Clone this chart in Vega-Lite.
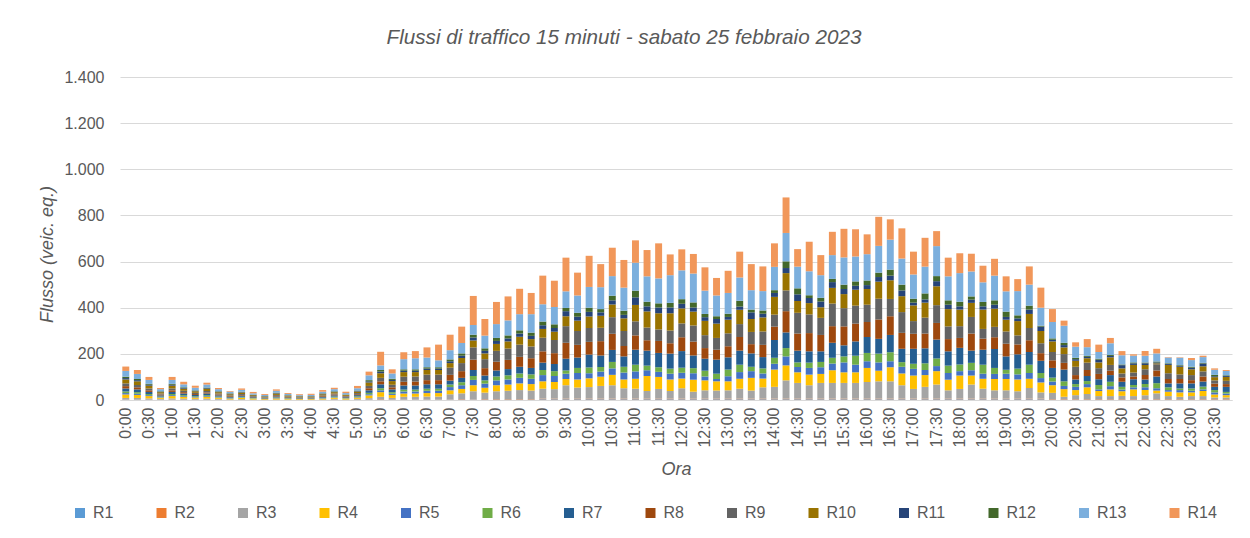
{
  "$schema": "https://vega.github.io/schema/vega-lite/v6.json",
  "width": 1112,
  "height": 323,
  "autosize": {"type": "none"},
  "padding": {"left": 120, "top": 77, "right": 18, "bottom": 138},
  "background": "white",
  "title": {"text": "Flussi di traffico 15 minuti - sabato 25 febbraio 2023", "font": "Liberation Sans", "fontStyle": "italic", "fontWeight": "normal", "fontSize": 20.7, "color": "#595959", "anchor": "middle", "offset": 20, "dx": -52},
  "data": {"values": [
    {"t":"0:00","R1":1,"R2":1,"R3":7,"R4":15,"R5":6,"R6":7,"R7":13,"R8":10,"R9":12,"R10":17,"R11":6,"R12":6,"R13":25,"R14":19},
    {"t":"0:15","R1":1,"R2":1,"R3":7,"R4":13,"R5":5,"R6":7,"R7":12,"R8":9,"R9":10,"R10":16,"R11":5,"R12":5,"R13":22,"R14":17},
    {"t":"0:30","R1":1,"R2":1,"R3":5,"R4":10,"R5":4,"R6":5,"R7":9,"R8":7,"R9":8,"R10":12,"R11":4,"R12":4,"R13":17,"R14":13},
    {"t":"0:45","R1":1,"R2":1,"R3":3,"R4":5,"R5":2,"R6":3,"R7":5,"R8":4,"R9":4,"R10":6,"R11":2,"R12":2,"R13":9,"R14":5},
    {"t":"1:00","R1":1,"R2":1,"R3":5,"R4":10,"R5":4,"R6":5,"R7":9,"R8":7,"R9":8,"R10":12,"R11":4,"R12":4,"R13":17,"R14":13},
    {"t":"1:15","R1":1,"R2":1,"R3":4,"R4":8,"R5":3,"R6":4,"R7":7,"R8":6,"R9":6,"R10":9,"R11":3,"R12":3,"R13":13,"R14":11},
    {"t":"1:30","R1":1,"R2":1,"R3":3,"R4":6,"R5":2,"R6":3,"R7":6,"R8":4,"R9":5,"R10":7,"R11":2,"R12":2,"R13":11,"R14":9},
    {"t":"1:45","R1":1,"R2":1,"R3":4,"R4":8,"R5":3,"R6":4,"R7":7,"R8":5,"R9":6,"R10":9,"R11":3,"R12":3,"R13":13,"R14":8},
    {"t":"2:00","R1":1,"R2":1,"R3":3,"R4":5,"R5":2,"R6":3,"R7":5,"R8":4,"R9":4,"R10":6,"R11":2,"R12":2,"R13":9,"R14":5},
    {"t":"2:15","R1":0,"R2":0,"R3":2,"R4":4,"R5":2,"R6":2,"R7":4,"R8":3,"R9":3,"R10":5,"R11":2,"R12":2,"R13":7,"R14":3},
    {"t":"2:30","R1":1,"R2":0,"R3":3,"R4":5,"R5":2,"R6":3,"R7":5,"R8":3,"R9":4,"R10":6,"R11":2,"R12":2,"R13":8,"R14":6},
    {"t":"2:45","R1":0,"R2":0,"R3":2,"R4":4,"R5":1,"R6":2,"R7":3,"R8":2,"R9":3,"R10":4,"R11":1,"R12":1,"R13":6,"R14":6},
    {"t":"3:00","R1":0,"R2":0,"R3":1,"R4":3,"R5":1,"R6":1,"R7":2,"R8":2,"R9":2,"R10":3,"R11":1,"R12":1,"R13":5,"R14":4},
    {"t":"3:15","R1":0,"R2":0,"R3":2,"R4":5,"R5":2,"R6":2,"R7":4,"R8":3,"R9":4,"R10":6,"R11":2,"R12":2,"R13":8,"R14":6},
    {"t":"3:30","R1":0,"R2":0,"R3":2,"R4":3,"R5":1,"R6":2,"R7":3,"R8":2,"R9":2,"R10":4,"R11":1,"R12":1,"R13":5,"R14":4},
    {"t":"3:45","R1":0,"R2":0,"R3":1,"R4":3,"R5":1,"R6":1,"R7":2,"R8":2,"R9":2,"R10":3,"R11":1,"R12":1,"R13":4,"R14":4},
    {"t":"4:00","R1":0,"R2":0,"R3":1,"R4":3,"R5":1,"R6":1,"R7":2,"R8":2,"R9":2,"R10":3,"R11":1,"R12":1,"R13":5,"R14":5},
    {"t":"4:15","R1":0,"R2":0,"R3":2,"R4":4,"R5":2,"R6":2,"R7":4,"R8":3,"R9":3,"R10":5,"R11":2,"R12":2,"R13":7,"R14":7},
    {"t":"4:30","R1":1,"R2":1,"R3":3,"R4":5,"R5":2,"R6":3,"R7":5,"R8":4,"R9":4,"R10":6,"R11":2,"R12":2,"R13":9,"R14":6},
    {"t":"4:45","R1":0,"R2":0,"R3":2,"R4":4,"R5":1,"R6":2,"R7":3,"R8":3,"R9":3,"R10":4,"R11":1,"R12":1,"R13":6,"R14":6},
    {"t":"5:00","R1":1,"R2":1,"R3":3,"R4":6,"R5":2,"R6":3,"R7":5,"R8":4,"R9":5,"R10":7,"R11":2,"R12":2,"R13":10,"R14":10},
    {"t":"5:15","R1":1,"R2":1,"R3":6,"R4":12,"R5":5,"R6":6,"R7":11,"R8":9,"R9":10,"R10":15,"R11":5,"R12":5,"R13":21,"R14":16},
    {"t":"5:30","R1":2,"R2":2,"R3":10,"R4":20,"R5":8,"R6":9,"R7":17,"R8":13,"R9":15,"R10":20,"R11":7,"R12":7,"R13":20,"R14":59},
    {"t":"5:45","R1":1,"R2":1,"R3":7,"R4":13,"R5":5,"R6":7,"R7":12,"R8":9,"R9":11,"R10":16,"R11":5,"R12":5,"R13":23,"R14":18},
    {"t":"6:00","R1":1,"R2":1,"R3":12,"R4":14,"R5":9,"R6":8,"R7":18,"R8":16,"R9":22,"R10":20,"R11":6,"R12":6,"R13":44,"R14":30},
    {"t":"6:15","R1":1,"R2":1,"R3":12,"R4":14,"R5":9,"R6":8,"R7":18,"R8":17,"R9":22,"R10":19,"R11":6,"R12":6,"R13":48,"R14":31},
    {"t":"6:30","R1":1,"R2":1,"R3":13,"R4":15,"R5":10,"R6":9,"R7":19,"R8":18,"R9":24,"R10":20,"R11":6,"R12":6,"R13":42,"R14":44},
    {"t":"6:45","R1":1,"R2":1,"R3":13,"R4":15,"R5":10,"R6":9,"R7":19,"R8":18,"R9":24,"R10":20,"R11":6,"R12":6,"R13":30,"R14":68},
    {"t":"7:00","R1":1,"R2":1,"R3":23,"R4":17,"R5":14,"R6":11,"R7":17,"R8":25,"R9":31,"R10":20,"R11":8,"R12":8,"R13":40,"R14":67},
    {"t":"7:15","R1":2,"R2":2,"R3":25,"R4":19,"R5":16,"R6":13,"R7":19,"R8":29,"R9":35,"R10":22,"R11":10,"R12":10,"R13":45,"R14":71},
    {"t":"7:30","R1":1,"R2":1,"R3":36,"R4":26,"R5":23,"R6":17,"R7":26,"R8":45,"R9":53,"R10":30,"R11":13,"R12":12,"R13":42,"R14":126},
    {"t":"7:45","R1":2,"R2":2,"R3":28,"R4":21,"R5":18,"R6":14,"R7":21,"R8":32,"R9":39,"R10":25,"R11":11,"R12":11,"R13":55,"R14":72},
    {"t":"8:00","R1":2,"R2":2,"R3":34,"R4":26,"R5":21,"R6":17,"R7":26,"R8":38,"R9":47,"R10":30,"R11":13,"R12":13,"R13":60,"R14":96},
    {"t":"8:15","R1":2,"R2":2,"R3":36,"R4":27,"R5":22,"R6":18,"R7":27,"R8":40,"R9":49,"R10":31,"R11":13,"R12":13,"R13":65,"R14":104},
    {"t":"8:30","R1":2,"R2":2,"R3":39,"R4":29,"R5":24,"R6":19,"R7":29,"R8":43,"R9":53,"R10":34,"R11":14,"R12":14,"R13":70,"R14":110},
    {"t":"8:45","R1":2,"R2":2,"R3":37,"R4":28,"R5":23,"R6":19,"R7":28,"R8":42,"R9":51,"R10":32,"R11":14,"R12":14,"R13":80,"R14":92},
    {"t":"9:00","R1":3,"R2":3,"R3":43,"R4":32,"R5":27,"R6":22,"R7":32,"R8":49,"R9":59,"R10":38,"R11":16,"R12":16,"R13":75,"R14":124},
    {"t":"9:15","R1":3,"R2":3,"R3":41,"R4":31,"R5":26,"R6":21,"R7":31,"R8":47,"R9":57,"R10":36,"R11":16,"R12":16,"R13":75,"R14":114},
    {"t":"9:30","R1":3,"R2":3,"R3":58,"R4":27,"R5":23,"R6":14,"R7":51,"R8":69,"R9":72,"R10":43,"R11":22,"R12":14,"R13":72,"R14":146},
    {"t":"9:45","R1":3,"R2":3,"R3":48,"R4":35,"R5":28,"R6":22,"R7":45,"R8":55,"R9":60,"R10":45,"R11":17,"R12":17,"R13":75,"R14":99},
    {"t":"10:00","R1":3,"R2":3,"R3":50,"R4":38,"R5":22,"R6":25,"R7":56,"R8":55,"R9":60,"R10":50,"R11":20,"R12":18,"R13":90,"R14":135},
    {"t":"10:15","R1":3,"R2":3,"R3":55,"R4":40,"R5":22,"R6":20,"R7":50,"R8":62,"R9":58,"R10":52,"R11":15,"R12":14,"R13":95,"R14":100},
    {"t":"10:30","R1":3,"R2":3,"R3":58,"R4":45,"R5":28,"R6":28,"R7":52,"R8":70,"R9":72,"R10":55,"R11":18,"R12":20,"R13":85,"R14":123},
    {"t":"10:45","R1":3,"R2":3,"R3":45,"R4":38,"R5":30,"R6":25,"R7":45,"R8":45,"R9":65,"R10":55,"R11":15,"R12":18,"R13":100,"R14":120},
    {"t":"11:00","R1":3,"R2":3,"R3":43,"R4":43,"R5":32,"R6":29,"R7":65,"R8":62,"R9":61,"R10":71,"R11":33,"R12":29,"R13":121,"R14":97},
    {"t":"11:15","R1":3,"R2":3,"R3":33,"R4":65,"R5":25,"R6":20,"R7":65,"R8":45,"R9":55,"R10":70,"R11":22,"R12":20,"R13":110,"R14":114},
    {"t":"11:30","R1":3,"R2":3,"R3":42,"R4":52,"R5":22,"R6":20,"R7":62,"R8":52,"R9":50,"R10":70,"R11":25,"R12":18,"R13":108,"R14":152},
    {"t":"11:45","R1":3,"R2":3,"R3":33,"R4":50,"R5":25,"R6":22,"R7":65,"R8":45,"R9":55,"R10":75,"R11":25,"R12":20,"R13":120,"R14":90},
    {"t":"12:00","R1":3,"R2":3,"R3":45,"R4":42,"R5":25,"R6":22,"R7":72,"R8":60,"R9":60,"R10":65,"R11":20,"R12":20,"R13":125,"R14":91},
    {"t":"12:15","R1":3,"R2":3,"R3":30,"R4":52,"R5":28,"R6":22,"R7":55,"R8":60,"R9":70,"R10":60,"R11":18,"R12":22,"R13":125,"R14":85},
    {"t":"12:30","R1":3,"R2":3,"R3":36,"R4":43,"R5":17,"R6":25,"R7":52,"R8":46,"R9":56,"R10":62,"R11":16,"R12":14,"R13":101,"R14":101},
    {"t":"12:45","R1":3,"R2":3,"R3":35,"R4":40,"R5":10,"R6":23,"R7":61,"R8":43,"R9":51,"R10":62,"R11":20,"R12":12,"R13":90,"R14":76},
    {"t":"13:00","R1":3,"R2":3,"R3":36,"R4":39,"R5":22,"R6":29,"R7":53,"R8":48,"R9":56,"R10":59,"R11":12,"R12":14,"R13":90,"R14":96},
    {"t":"13:15","R1":3,"R2":3,"R3":43,"R4":43,"R5":29,"R6":32,"R7":61,"R8":59,"R9":56,"R10":62,"R11":14,"R12":25,"R13":101,"R14":112},
    {"t":"13:30","R1":3,"R2":3,"R3":35,"R4":55,"R5":29,"R6":19,"R7":58,"R8":40,"R9":53,"R10":56,"R11":29,"R12":12,"R13":84,"R14":113},
    {"t":"13:45","R1":3,"R2":3,"R3":49,"R4":38,"R5":22,"R6":22,"R7":49,"R8":53,"R9":58,"R10":61,"R11":16,"R12":14,"R13":84,"R14":107},
    {"t":"14:00","R1":3,"R2":3,"R3":51,"R4":75,"R5":25,"R6":26,"R7":77,"R8":58,"R9":52,"R10":77,"R11":17,"R12":12,"R13":101,"R14":102},
    {"t":"14:15","R1":3,"R2":3,"R3":79,"R4":65,"R5":39,"R6":36,"R7":68,"R8":92,"R9":90,"R10":75,"R11":22,"R12":29,"R13":123,"R14":154},
    {"t":"14:30","R1":3,"R2":3,"R3":68,"R4":46,"R5":23,"R6":20,"R7":51,"R8":74,"R9":90,"R10":51,"R11":29,"R12":26,"R13":94,"R14":76},
    {"t":"14:45","R1":3,"R2":3,"R3":58,"R4":46,"R5":29,"R6":23,"R7":49,"R8":79,"R9":81,"R10":49,"R11":22,"R12":12,"R13":104,"R14":128},
    {"t":"15:00","R1":3,"R2":3,"R3":68,"R4":39,"R5":29,"R6":23,"R7":46,"R8":71,"R9":74,"R10":46,"R11":25,"R12":16,"R13":98,"R14":87},
    {"t":"15:15","R1":3,"R2":3,"R3":68,"R4":55,"R5":29,"R6":25,"R7":65,"R8":72,"R9":98,"R10":68,"R11":25,"R12":14,"R13":103,"R14":101},
    {"t":"15:30","R1":3,"R2":3,"R3":68,"R4":46,"R5":43,"R6":26,"R7":48,"R8":82,"R9":79,"R10":61,"R11":22,"R12":19,"R13":118,"R14":124},
    {"t":"15:45","R1":3,"R2":3,"R3":68,"R4":46,"R5":33,"R6":39,"R7":62,"R8":77,"R9":78,"R10":69,"R11":17,"R12":19,"R13":108,"R14":118},
    {"t":"16:00","R1":3,"R2":3,"R3":72,"R4":61,"R5":29,"R6":36,"R7":69,"R8":65,"R9":75,"R10":68,"R11":17,"R12":20,"R13":114,"R14":86},
    {"t":"16:15","R1":3,"R2":3,"R3":75,"R4":46,"R5":36,"R6":38,"R7":64,"R8":84,"R9":90,"R10":74,"R11":20,"R12":19,"R13":116,"R14":126},
    {"t":"16:30","R1":3,"R2":3,"R3":75,"R4":61,"R5":26,"R6":39,"R7":75,"R8":81,"R9":75,"R10":81,"R11":20,"R12":26,"R13":130,"R14":88},
    {"t":"16:45","R1":3,"R2":3,"R3":58,"R4":51,"R5":29,"R6":20,"R7":58,"R8":69,"R9":90,"R10":69,"R11":25,"R12":25,"R13":113,"R14":131},
    {"t":"17:00","R1":3,"R2":3,"R3":42,"R4":58,"R5":29,"R6":22,"R7":65,"R8":65,"R9":55,"R10":68,"R11":12,"R12":17,"R13":105,"R14":99},
    {"t":"17:15","R1":3,"R2":3,"R3":51,"R4":51,"R5":22,"R6":29,"R7":65,"R8":64,"R9":69,"R10":65,"R11":14,"R12":26,"R13":116,"R14":125},
    {"t":"17:30","R1":3,"R2":3,"R3":61,"R4":58,"R5":22,"R6":33,"R7":82,"R8":72,"R9":77,"R10":82,"R11":22,"R12":22,"R13":130,"R14":65},
    {"t":"17:45","R1":3,"R2":3,"R3":36,"R4":46,"R5":29,"R6":32,"R7":62,"R8":53,"R9":55,"R10":75,"R11":19,"R12":19,"R13":104,"R14":81},
    {"t":"18:00","R1":3,"R2":3,"R3":42,"R4":58,"R5":19,"R6":29,"R7":72,"R8":43,"R9":51,"R10":72,"R11":14,"R12":20,"R13":124,"R14":86},
    {"t":"18:15","R1":3,"R2":3,"R3":61,"R4":39,"R5":23,"R6":32,"R7":53,"R8":74,"R9":72,"R10":61,"R11":14,"R12":14,"R13":108,"R14":77},
    {"t":"18:30","R1":3,"R2":3,"R3":43,"R4":43,"R5":22,"R6":39,"R7":65,"R8":48,"R9":42,"R10":84,"R11":14,"R12":19,"R13":85,"R14":72},
    {"t":"18:45","R1":3,"R2":3,"R3":36,"R4":49,"R5":22,"R6":26,"R7":82,"R8":51,"R9":45,"R10":79,"R11":17,"R12":19,"R13":107,"R14":73},
    {"t":"19:00","R1":3,"R2":3,"R3":36,"R4":49,"R5":23,"R6":17,"R7":58,"R8":55,"R9":53,"R10":51,"R11":12,"R12":23,"R13":88,"R14":65},
    {"t":"19:15","R1":3,"R2":3,"R3":32,"R4":51,"R5":22,"R6":25,"R7":62,"R8":43,"R9":39,"R10":62,"R11":12,"R12":13,"R13":105,"R14":52},
    {"t":"19:30","R1":3,"R2":3,"R3":46,"R4":40,"R5":25,"R6":36,"R7":55,"R8":51,"R9":53,"R10":61,"R11":19,"R12":17,"R13":91,"R14":79},
    {"t":"19:45","R1":3,"R2":3,"R3":27,"R4":43,"R5":19,"R6":22,"R7":53,"R8":33,"R9":43,"R10":53,"R11":19,"R12":4,"R13":78,"R14":87},
    {"t":"20:00","R1":2,"R2":2,"R3":27,"R4":33,"R5":16,"R6":17,"R7":42,"R8":33,"R9":36,"R10":46,"R11":7,"R12":6,"R13":71,"R14":56},
    {"t":"20:15","R1":2,"R2":2,"R3":10,"R4":33,"R5":14,"R6":20,"R7":51,"R8":29,"R9":38,"R10":29,"R11":10,"R12":10,"R13":74,"R14":22},
    {"t":"20:30","R1":2,"R2":2,"R3":17,"R4":22,"R5":14,"R6":12,"R7":20,"R8":19,"R9":36,"R10":26,"R11":7,"R12":6,"R13":48,"R14":19},
    {"t":"20:45","R1":2,"R2":2,"R3":22,"R4":29,"R5":14,"R6":13,"R7":22,"R8":26,"R9":32,"R10":19,"R11":6,"R12":4,"R13":38,"R14":35},
    {"t":"21:00","R1":2,"R2":2,"R3":13,"R4":22,"R5":7,"R6":19,"R7":25,"R8":23,"R9":25,"R10":25,"R11":12,"R12":4,"R13":29,"R14":32},
    {"t":"21:15","R1":2,"R2":2,"R3":13,"R4":29,"R5":14,"R6":19,"R7":29,"R8":19,"R9":25,"R10":33,"R11":6,"R12":4,"R13":51,"R14":23},
    {"t":"21:30","R1":2,"R2":2,"R3":14,"R4":20,"R5":7,"R6":12,"R7":22,"R8":19,"R9":17,"R10":22,"R11":14,"R12":3,"R13":40,"R14":18},
    {"t":"21:45","R1":2,"R2":2,"R3":13,"R4":29,"R5":9,"R6":10,"R7":25,"R8":12,"R9":17,"R10":33,"R11":7,"R12":4,"R13":29,"R14":6},
    {"t":"22:00","R1":2,"R2":2,"R3":17,"R4":22,"R5":12,"R6":14,"R7":20,"R8":19,"R9":25,"R10":19,"R11":7,"R12":3,"R13":30,"R14":20},
    {"t":"22:15","R1":2,"R2":2,"R3":25,"R4":12,"R5":10,"R6":22,"R7":29,"R8":26,"R9":27,"R10":4,"R11":4,"R12":4,"R13":35,"R14":20},
    {"t":"22:30","R1":2,"R2":2,"R3":13,"R4":19,"R5":7,"R6":12,"R7":17,"R8":19,"R9":25,"R10":36,"R11":4,"R12":3,"R13":25,"R14":2},
    {"t":"22:45","R1":2,"R2":2,"R3":10,"R4":19,"R5":10,"R6":7,"R7":22,"R8":19,"R9":20,"R10":33,"R11":4,"R12":3,"R13":32,"R14":2},
    {"t":"23:00","R1":2,"R2":2,"R3":13,"R4":16,"R5":7,"R6":10,"R7":22,"R8":14,"R9":22,"R10":25,"R11":7,"R12":4,"R13":29,"R14":9},
    {"t":"23:15","R1":2,"R2":2,"R3":13,"R4":22,"R5":7,"R6":12,"R7":22,"R8":22,"R9":22,"R10":22,"R11":12,"R12":3,"R13":25,"R14":6},
    {"t":"23:30","R1":2,"R2":2,"R3":7,"R4":13,"R5":9,"R6":10,"R7":14,"R8":14,"R9":14,"R10":14,"R11":4,"R12":6,"R13":22,"R14":6},
    {"t":"23:45","R1":2,"R2":2,"R3":7,"R4":10,"R5":7,"R6":7,"R7":22,"R8":12,"R9":14,"R10":17,"R11":4,"R12":3,"R13":19,"R14":4}
  ]},
  "transform": [
    {"fold": ["R1","R2","R3","R4","R5","R6","R7","R8","R9","R10","R11","R12","R13","R14"], "as": ["serie", "flusso"]},
    {"calculate": "indexof(['R1','R2','R3','R4','R5','R6','R7','R8','R9','R10','R11','R12','R13','R14'], datum.serie)", "as": "ordine"}
  ],
  "mark": {"type": "bar"},
  "encoding": {
    "x": {
      "field": "t", "type": "ordinal", "sort": null,
      "scale": {"paddingInner": 0.4, "paddingOuter": 0.2},
      "axis": {
        "title": "Ora", "titleFont": "Liberation Sans", "titleFontStyle": "italic", "titleFontWeight": "normal", "titleFontSize": 18, "titleColor": "#595959", "titleY": 60,
        "labelAngle": 270, "labelAlign": "right", "labelBaseline": "middle", "labelFont": "Liberation Sans", "labelFontSize": 16, "labelColor": "#595959", "labelPadding": 7,
        "labelExpr": "indexof(datum.value, ':15') >= 0 || indexof(datum.value, ':45') >= 0 ? '' : datum.value",
        "labelOverlap": false,
        "ticks": false, "domainColor": "#d9d9d9", "domainWidth": 1, "grid": false
      }
    },
    "y": {
      "field": "flusso", "type": "quantitative", "stack": "zero",
      "scale": {"domain": [0, 1400], "nice": false},
      "axis": {
        "title": "Flusso (veic. eq.)", "titleFont": "Liberation Sans", "titleFontStyle": "italic", "titleFontWeight": "normal", "titleFontSize": 18, "titleColor": "#595959", "titleX": -64, "titleY": 177,
        "values": [0, 200, 400, 600, 800, 1000, 1200, 1400],
        "labelExpr": "replace(format(datum.value, ','), ',', '.')",
        "labelFont": "Liberation Sans", "labelFontSize": 16, "labelColor": "#595959", "labelPadding": 16,
        "ticks": false, "domain": false, "grid": true, "gridColor": "#d9d9d9", "gridWidth": 1
      }
    },
    "order": {"field": "ordine", "type": "quantitative", "sort": "ascending"},
    "color": {
      "field": "serie", "type": "nominal",
      "sort": ["R1","R2","R3","R4","R5","R6","R7","R8","R9","R10","R11","R12","R13","R14"],
      "scale": {
        "domain": ["R1","R2","R3","R4","R5","R6","R7","R8","R9","R10","R11","R12","R13","R14"],
        "range": ["#5B9BD5","#ED7D31","#A5A5A5","#FFC000","#4472C4","#70AD47","#255E91","#9E480E","#636363","#997300","#264478","#43682B","#7CAFDD","#F1975A"]
      },
      "legend": {
        "title": null, "orient": "none", "direction": "horizontal", "legendX": -48, "legendY": 428,
        "symbolType": "square", "symbolSize": 100, "symbolStrokeWidth": 0, "symbolOpacity": 1,
        "labelFont": "Liberation Sans", "labelFontSize": 16, "labelColor": "#595959", "labelOffset": 5,
        "columnPadding": 39.5
      }
    }
  },
  "config": {"view": {"stroke": null}, "font": "Liberation Sans"}
}
